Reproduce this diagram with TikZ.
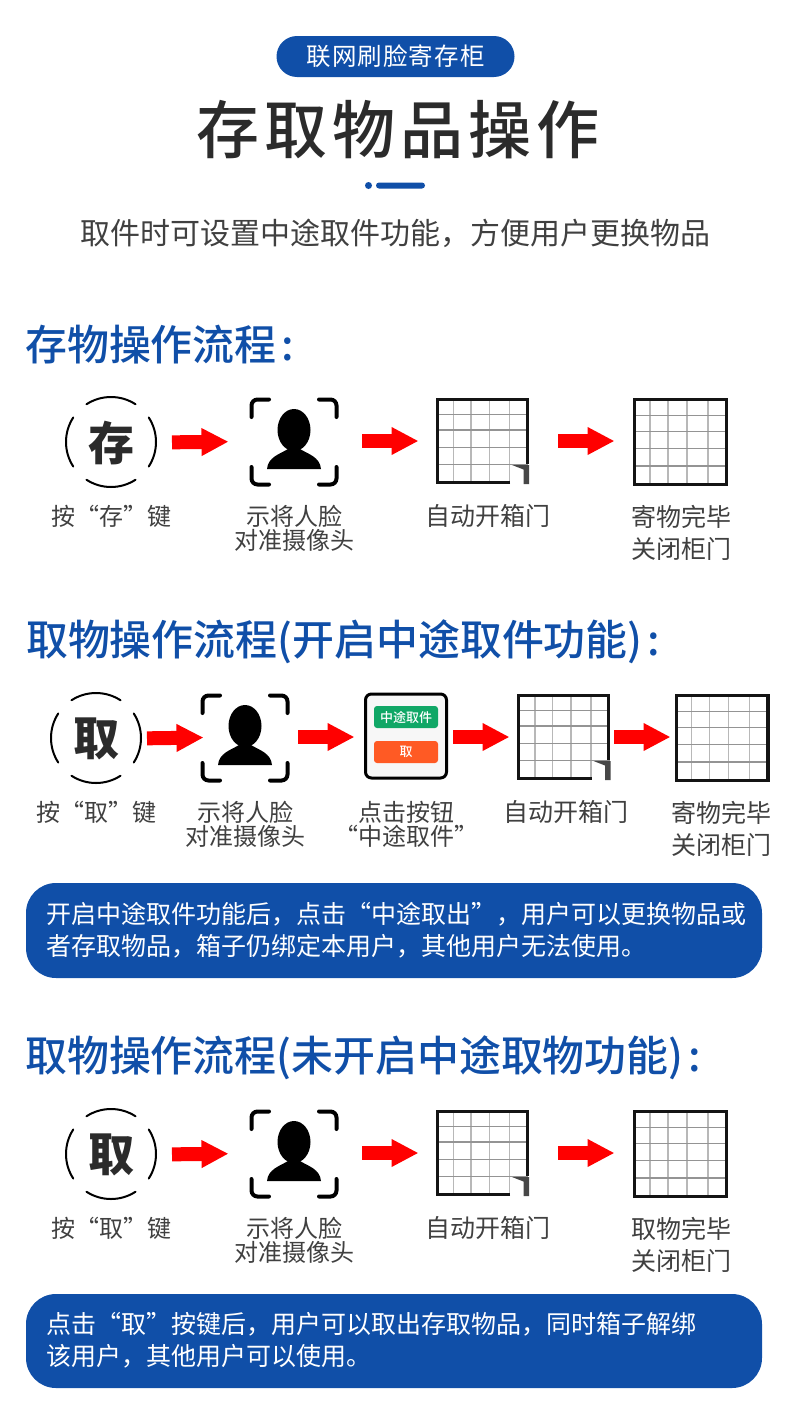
\documentclass[tikz,border=0pt]{standalone}
\usepackage{fontspec}
\usepackage{tikz}
\usetikzlibrary{arrows.meta,positioning}
\setmainfont{Noto Sans CJK SC}
\newfontfamily\medfont{Noto Sans CJK SC Medium}
\definecolor{ink}{HTML}{2B2B2B}
\definecolor{note}{HTML}{104FA8}
\definecolor{grey}{HTML}{404040}
\definecolor{btngreen}{HTML}{10A766}
\definecolor{btnorange}{HTML}{FF5A24}
\newcommand{\fs}[1]{\fontsize{#1}{#1}\selectfont}

\tikzset{
  keyicon/.pic={
    \node[font=\medfont\bfseries\fs{46},text=ink,inner sep=0pt] (-c) at (0,2) {#1};
    \foreach \ang in {0,90,180,270}{
      \draw[black,line width=2pt,line cap=round,yshift=-1pt,yscale=-1] (\ang-33:45) arc[start angle=\ang-33,delta angle=66,radius=45];
    }
  },
  faceicon/.pic={
    \coordinate (-c) at (0,0);
    \begin{scope}[yshift=-1pt]
    \foreach \sx/\sy in {-1/-1,1/-1,-1/1,1/1}{
      \draw[black,line width=4pt,line cap=round,rounded corners=6pt,xscale=\sx,yscale=\sy]
        (25,-42.5) -- (42.5,-42.5) -- (42.5,-25);
    }
    \fill[black] (0,-12) ellipse[x radius=16.5,y radius=21];
    \fill[black] (-27,27) .. controls (-26,15) and (-14,12) .. (-6,7) -- (6,7)
      .. controls (14,12) and (26,15) .. (27,27) -- cycle;
    \end{scope}
  },
  gridlines/.style={line width=1.2pt},
  boxopen/.pic={
    \coordinate (-c) at (0,0);
    \foreach \x in {-28.5,-11,7.5,27.5}{\draw[gridlines,black!28] (\x,-43) -- (\x,43);}
    \foreach \y in {-26.5,-11,6.5,23.5}{\draw[gridlines,black!42] (-46,\y) -- (46,\y);}
    \fill[white] (28.2,23.8) rectangle (43,45);
    \draw[black!92,line width=3.4pt] (28,41.5) -- (-44.8,41.5) -- (-44.8,-41.6) -- (45.2,-41.6) -- (45.2,23);
    \fill[black!72] (30,24) -- (47,24) -- (47,43) -- (41.5,43) -- (41.5,28.5) -- cycle;
  },
  boxclosed/.pic={
    \coordinate (-c) at (0,0);
    \foreach \x in {-30.5,-12.5,6.5,27.5}{\draw[gridlines,black!28] (\x,-43) -- (\x,44);}
    \foreach \y in {-25.5,-9.5,7.5,25}{\draw[gridlines,black!42] (-46,\y) -- (46,\y);}
    \draw[black!92,line width=3.2pt] (-45.9,-41.4) rectangle (45.9,43.4);
  },
  btnicon/.pic={
    \coordinate (-c) at (0,0);
    \draw[black,line width=3pt,fill=black!3,rounded corners=6pt] (-40.5,-43) rectangle (40.5,41);
    \node[btn,fill=btngreen] (-up) at (0,-20) {中途取件};
    \node[btn,fill=btnorange] (-down) at (0,15) {取};
  }
}

\begin{document}
\begin{tikzpicture}[x=1pt,y=-1pt,
  btn/.style={rounded corners=3pt,minimum width=64pt,minimum height=22pt,inner sep=0pt,text=white,font=\medfont\fs{13}},
  flow/.style 2 args={draw=red,line width=14pt,-{Triangle[length=27pt,width=26pt]},shorten <=#1pt,shorten >=#2pt},
  label/.style={font=\fs{24},text=grey,align=center,inner sep=0pt},
  biglabel/.style={label,font=\fs{25}},
  head/.style={font=\medfont\fs{41.9},text=note,anchor=west,inner sep=0pt},
  panel/.style={fill=note,rounded corners=30pt,minimum width=736pt,inner sep=0pt},
  paneltxt/.style={font=\fs{25},text=white,anchor=west,align=left,inner sep=0pt}]

  \useasboundingbox (0,0) rectangle (790,1416);

  % title block
  \node[fill=note,rounded corners=20.5pt,minimum width=238pt,minimum height=41pt,inner sep=0pt,
        text=white,font=\addfontfeature{LetterSpace=4.5}\fs{24.5}] (pill) at (395.5,56.5) {联网刷脸寄存柜};
  \node[font=\medfont\addfontfeature{LetterSpace=8}\fs{63},text=ink,inner sep=0pt] (title) at (398,130) {存取物品操作};
  \node[fill=note,circle,minimum size=7pt,inner sep=0pt] (dot) at (368.5,185.5) {};
  \node[fill=note,rounded corners=3pt,minimum width=49pt,minimum height=6pt,inner sep=0pt] (bar) at (400.5,185.5) {};
  \node[font=\fs{30},text=grey,inner sep=0pt] (sub) at (395,233) {取件时可设置中途取件功能，方便用户更换物品};

  \node[head] (heada) at (25,345) {存物操作流程\hspace{5pt}:};
  \node[head] (headb) at (26,641.5) {取物操作流程(开启中途取件功能)\hspace{5pt}:};
  \node[head] (headc) at (25,1057.5) {取物操作流程(未开启中途取物功能)\hspace{5pt}:};

  % the two rows with four steps
  \foreach \row/\yy/\ch/\donea in {a/441/存/寄物完毕,c/1153/取/取物完毕}{
    \pic (\row key) at (111,\yy) {keyicon=\ch};
    \pic (\row face) at (294,\yy) {faceicon};
    \pic (\row open) at (482,\yy) {boxopen};
    \pic (\row shut) at (680.5,\yy) {boxclosed};
    \draw[flow={61}{65.5}] (\row key-c.center) -- (\row face-c);
    \draw[flow={68}{63.5}] (\row face-c) -- (\row open-c);
    \draw[flow={76}{66}] (\row open-c) -- (\row shut-c);
    \node[label] (\row keylab) at (111,\yy+75) {按“\ch”键};
    \node[label] (\row facelab) at (294,\yy+87) {示将人脸\\对准摄像头};
    \node[biglabel] (\row openlab) at (488,\yy+75) {自动开箱门};
    \node[biglabel] (\row shutlab) at (681,\yy+92) {\donea\\[7pt]关闭柜门};
  }

  % the row with five steps
  \pic (bkey) at (96,737) {keyicon=取};
  \pic (bface) at (245,737) {faceicon};
  \pic (bbtn) at (406,737) {btnicon};
  \pic (bopen) at (563.5,737) {boxopen};
  \pic (bshut) at (722,737) {boxclosed};
  \draw[flow={51}{41.5}] (bkey-c.center) -- (bface-c);
  \draw[flow={53}{51.5}] (bface-c) -- (bbtn-c);
  \draw[flow={47}{54}] (bbtn-c) -- (bopen-c);
  \draw[flow={50.5}{51.5}] (bopen-c) -- (bshut-c);
  \node[label] (bkeylab) at (96,812) {按“取”键};
  \node[label] (bfacelab) at (245,824) {示将人脸\\对准摄像头};
  \node[label] (bbtnlab) at (406,824) {点击按钮\\“中途取件”};
  \node[biglabel] (bopenlab) at (566,812) {自动开箱门};
  \node[biglabel] (bshutlab) at (721,829) {寄物完毕\\[7pt]关闭柜门};

  % notes
  \node[panel,minimum height=95pt] (noteb) at (394,930.5) {};
  \node[paneltxt] (notebtxt) at (46,930) {开启中途取件功能后，点击“中途取出”，用户可以更换物品或\\[7pt]者存取物品，箱子仍绑定本用户，其他用户无法使用。};
  \node[panel,minimum height=94pt] (notec) at (394,1341) {};
  \node[paneltxt] (notectxt) at (46,1340.5) {点击“取”按键后，用户可以取出存取物品，同时箱子解绑\\[7pt]该用户，其他用户可以使用。};
\end{tikzpicture}
\end{document}
